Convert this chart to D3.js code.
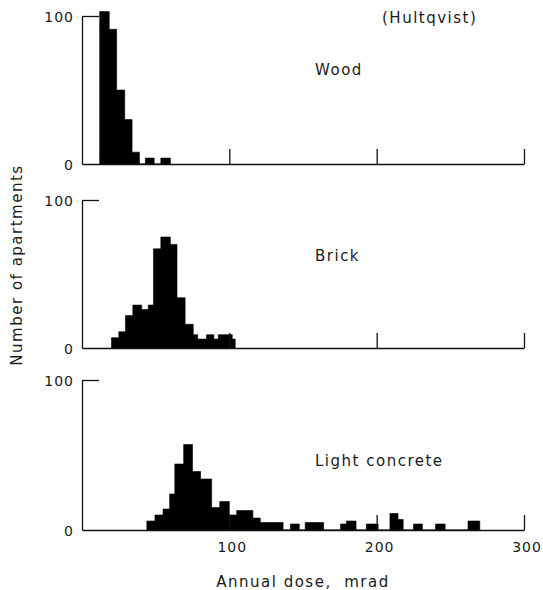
<!DOCTYPE html>
<html>
<head>
<meta charset="utf-8">
<script src="https://cdn.jsdelivr.net/npm/d3@7"></script>
<style>
  body { margin: 0; background: #fff; }
  text { font-family: "DejaVu Sans", sans-serif; fill: #1a1a1a; }
  .axis path, .axis line { stroke: #111; stroke-width: 1.3; }
</style>
</head>
<body>
<div id="chart"></div>
<script>
// histogram data, bin edges in mrad and counts per bin
var woodEdges = [12, 18.5, 23.5, 29, 34, 39, 43, 49, 53.5, 60];
var woodCounts = [103, 91, 50, 30, 8, 0, 4, 0, 4];

var brickEdges = [20, 25, 29.5, 34.5, 40.5, 45, 48.5, 53.5, 60, 64.5, 70, 75.5, 78.5, 84.5, 89.5, 92.5, 102, 104];
var brickCounts = [7, 11, 22, 29, 26, 29, 67, 75, 70, 34, 16, 9, 6, 9, 6, 9, 6];

var concreteEdges = [44, 49.5, 55, 59.5, 63, 69, 75, 80.5, 88, 93.5, 100, 105, 116, 121, 136.5, 141.5,
  147.5, 151.5, 164, 175.5, 179.5, 186, 193, 201, 209, 214.5, 218, 225, 231, 240, 246.5, 262, 270];
var concreteCounts = [6, 10, 14, 24, 44, 57, 39, 34, 15, 19, 10, 13, 8, 5, 0, 4,
  0, 5, 0, 4, 6, 0, 4, 0, 11, 7, 0, 4, 0, 4, 0, 6];

var panelNames = ['Wood', 'Brick', 'Light concrete'];
var xTicks = [100, 200, 300];
var yTicks = [0, 100];

var width = 543, height = 590;
var svg = d3.select('#chart').append('svg')
  .attr('width', width)
  .attr('height', height);

var x = d3.scaleLinear().domain([0, 300]).range([82, 524]);

var panels = [
  {name: panelNames[0], edges: woodEdges, counts: woodCounts, base: 164, top: 16, labelY: 75},
  {name: panelNames[1], edges: brickEdges, counts: brickCounts, base: 348, top: 200, labelY: 261},
  {name: panelNames[2], edges: concreteEdges, counts: concreteCounts, base: 530, top: 380, labelY: 466}
];

panels.forEach(function (p, i) {
  var y = d3.scaleLinear().domain([0, 100]).range([p.base, p.top]);
  var g = svg.append('g');

  // step outline, last edge closes back to zero
  var pts = p.edges.map(function (e, j) {
    return {x: e, n: j < p.counts.length ? p.counts[j] : 0};
  });

  var area = d3.area()
    .curve(d3.curveStepAfter)
    .x(function (d) { return x(d.x); })
    .y0(y(0))
    .y1(function (d) { return y(d.n); });

  g.append('path')
    .datum(pts)
    .attr('d', area)
    .attr('fill', '#000')
    .attr('stroke', '#000')
    .attr('stroke-width', 0.6);

  // x axis, ticks pointing up into the plot
  g.append('g')
    .attr('class', 'axis')
    .attr('transform', `translate(0,${y(0)})`)
    .call(d3.axisTop(x).tickValues(xTicks).tickSize(15).tickSizeOuter(0).tickFormat(''));

  // y axis, 100 tick pointing right
  g.append('g')
    .attr('class', 'axis')
    .attr('transform', `translate(${x(0)},0)`)
    .call(d3.axisRight(y).tickValues([100]).tickSize(17).tickSizeOuter(0).tickFormat(''));

  g.selectAll('.ylab')
    .data(yTicks)
    .enter().append('text')
    .attr('class', 'ylab')
    .attr('x', 74)
    .attr('y', function (d) { return y(d) + 5.5; })
    .attr('text-anchor', 'end')
    .style('font-size', '14px')
    .style('letter-spacing', '1px')
    .text(function (d) { return d; });

  g.append('text')
    .attr('x', 315)
    .attr('y', p.labelY)
    .style('font-size', '15px')
    .style('letter-spacing', '1.5px')
    .text(p.name);

  if (i == 2) {
    g.selectAll('.xlab')
      .data(xTicks)
      .enter().append('text')
      .attr('x', function (d) { return x(d) + 3; })
      .attr('y', y(0) + 22)
      .attr('text-anchor', 'middle')
      .style('font-size', '14px')
      .style('letter-spacing', '1px')
      .text(function (d) { return d; });
  }
});

svg.append('text')
  .attr('x', 382)
  .attr('y', 23)
  .style('font-size', '15px')
  .style('letter-spacing', '1.5px')
  .text('(Hultqvist)');

svg.append('text')
  .attr('x', 303)
  .attr('y', 587)
  .attr('text-anchor', 'middle')
  .style('font-size', '15px')
  .style('letter-spacing', '1.5px')
  .style('white-space', 'pre')
  .text('Annual dose,  mrad');

svg.append('text')
  .attr('transform', 'translate(22,265)rotate(-90)')
  .attr('text-anchor', 'middle')
  .style('font-size', '15px')
  .style('letter-spacing', '1.5px')
  .text('Number of apartments');
</script>
</body>
</html>
